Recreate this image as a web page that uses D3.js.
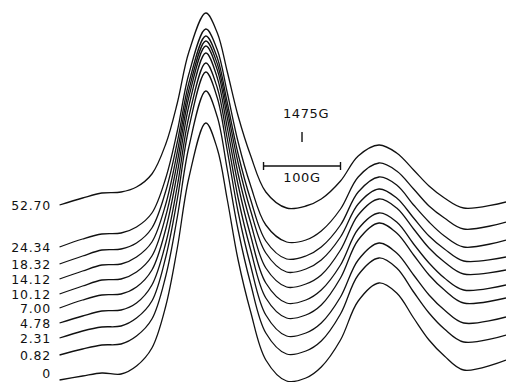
<!DOCTYPE html>
<html>
<head>
<meta charset="utf-8">
<script src="https://cdn.jsdelivr.net/npm/d3@7"></script>
<style>
  html, body { margin: 0; padding: 0; background: #fff; }
  #chart svg { display: block; }
</style>
</head>
<body>
<div id="chart"></div>
<script>
const fieldGauss = [1160, 1190, 1215, 1240, 1260, 1280, 1298, 1313, 1328, 1350, 1365, 1378, 1392, 1408,
  1428, 1455, 1480, 1500, 1525, 1548, 1575, 1598, 1620, 1640, 1660, 1685, 1740];

// trace labels, top to bottom
const traceLabels = ['52.70', '24.34', '18.32', '14.12', '10.12', '7.00', '4.78', '2.31', '0.82', '0'];

// signal (arbitrary units, traces already stacked with their offsets)
const sig5270 = [177, 184, 189, 190, 195, 208, 238, 279, 330, 369, 349, 310, 266, 227, 190, 174, 176, 183, 201, 226, 237, 229, 212, 196, 184, 174, 180];
const sig2434 = [135, 143, 148, 149, 155, 169, 204, 251, 308, 353, 332, 289, 240, 197, 157, 140, 142, 151, 173, 205, 219, 211, 193, 176, 164, 153, 160];
const sig1832 = [118, 126, 132, 133, 139, 154, 191, 240, 299, 346, 324, 279, 228, 183, 141, 123, 126, 135, 157, 190, 205, 197, 177, 160, 146, 135, 142];
const sig1412 = [103, 111, 117, 118, 125, 140, 178, 230, 292, 341, 318, 272, 219, 172, 129, 110, 113, 122, 145, 178, 193, 184, 164, 146, 133, 121, 125];
const sig1012 = [88, 96, 102, 103, 110, 126, 166, 220, 285, 336, 312, 264, 208, 160, 114, 95, 98, 107, 132, 167, 183, 174, 153, 134, 120, 108, 112];
const sig700 = [74, 82, 87, 88, 95, 112, 153, 209, 276, 329, 304, 254, 197, 147, 99, 79, 82, 92, 117, 153, 169, 160, 138, 119, 104, 92, 97];
const sig478 = [59, 66, 71, 72, 79, 97, 139, 196, 265, 319, 294, 243, 184, 133, 84, 64, 67, 77, 104, 142, 159, 149, 127, 107, 92, 79, 84];
const sig231 = [44, 51, 55, 56, 64, 81, 125, 183, 254, 310, 284, 231, 170, 117, 67, 46, 49, 59, 85, 122, 139, 129, 107, 87, 72, 59, 65];
const sig082 = [27, 33, 37, 38, 46, 63, 106, 165, 235, 291, 265, 212, 152, 99, 49, 28, 31, 41, 68, 107, 124, 114, 90, 69, 53, 40, 47];
const sig000 = [2, 6, 9, 8, 16, 34, 76, 134, 204, 259, 233, 182, 122, 71, 22, 1, 4, 15, 42, 81, 99, 89, 64, 42, 26, 12, 22];

// field marker and scale bar (G)
const markerField = 1475;
const scaleBar = [1425, 1525];

const drawChart = (id) => {
  const width = 506;
  const height = 382;
  const font = 'DejaVu Sans, sans-serif';

  d3.select('#' + id + ' svg').remove(); // remove old svg

  const traces = [sig5270, sig2434, sig1832, sig1412, sig1012, sig700, sig478, sig231, sig082, sig000];
  const data = traces.map((values, i) => ({
    name: traceLabels[i],
    values: values.map((v, j) => ({ field: fieldGauss[j], value: v })),
  }));

  const svg = d3.select('#' + id).append('svg').attr('width', width).attr('height', height);

  const x = d3.scaleLinear().domain([1158, 1740]).range([58, 506]);
  const y = d3.scaleLinear().domain([0, 382]).range([382, 0]);

  const line = d3
    .line()
    .x((d) => x(d.field))
    .y((d) => y(d.value))
    .curve(d3.curveCatmullRom.alpha(0.5));

  svg
    .selectAll('path.trace')
    .data(data)
    .enter()
    .append('path')
    .attr('class', 'trace')
    .attr('d', (d) => line(d.values))
    .attr('fill', 'none')
    .attr('stroke', '#111')
    .attr('stroke-width', 1.3);

  // labels at the start of each trace
  svg
    .selectAll('text.lbl')
    .data(data)
    .enter()
    .append('text')
    .attr('class', 'lbl')
    .attr('x', 51)
    .attr('y', (d) => Math.min(y(d.values[0].value) + 4.5, 378))
    .attr('text-anchor', 'end')
    .style('font-family', font)
    .style('font-size', '12.5px')
    .style('letter-spacing', '0.8px')
    .style('fill', '#111')
    .text((d) => d.name);

  // field marker
  const mx = x(markerField);
  svg.append('text')
    .attr('x', mx + 4)
    .attr('y', 118)
    .attr('text-anchor', 'middle')
    .style('font-family', font)
    .style('font-size', '13px')
    .style('letter-spacing', '0.6px')
    .style('fill', '#111')
    .text('1475G');
  svg.append('line')
    .attr('x1', mx).attr('x2', mx)
    .attr('y1', 132).attr('y2', 142)
    .attr('stroke', '#111').attr('stroke-width', 1.4);

  // 100 G scale bar
  const bx0 = x(scaleBar[0]);
  const bx1 = x(scaleBar[1]);
  const by = 166;
  svg.append('line')
    .attr('x1', bx0).attr('x2', bx1)
    .attr('y1', by).attr('y2', by)
    .attr('stroke', '#111').attr('stroke-width', 1.4);
  [bx0, bx1].forEach((bx) => {
    svg.append('line')
      .attr('x1', bx).attr('x2', bx)
      .attr('y1', by - 4).attr('y2', by + 4)
      .attr('stroke', '#111').attr('stroke-width', 1.4);
  });
  svg.append('text')
    .attr('x', (bx0 + bx1) / 2)
    .attr('y', 182)
    .attr('text-anchor', 'middle')
    .style('font-family', font)
    .style('font-size', '13px')
    .style('letter-spacing', '0.6px')
    .style('fill', '#111')
    .text('100G');
};

drawChart('chart');
</script>
</body>
</html>
